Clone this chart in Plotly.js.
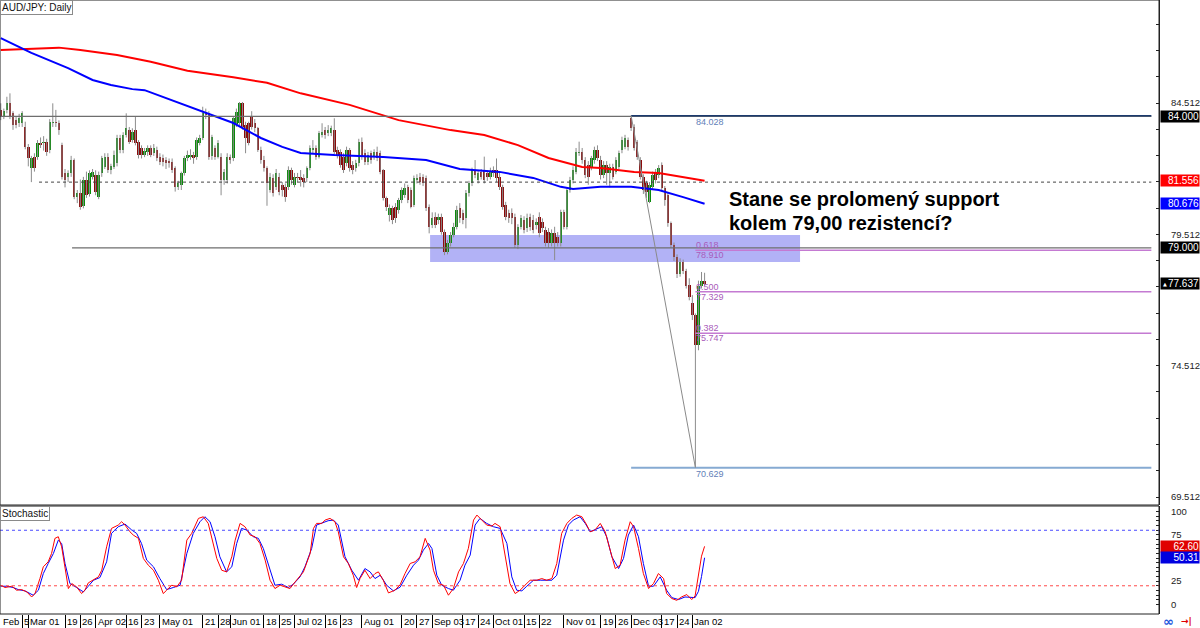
<!DOCTYPE html>
<html><head><meta charset="utf-8">
<script src="https://cdn.plot.ly/plotly-3.0.1.min.js"></script>
<style>html,body{margin:0;padding:0;background:#fff;overflow:hidden}#chart{width:1200px;height:628px}</style>
</head><body><div id="chart"></div>
<script>
// ---------- DATA ----------
const barOpen = [84.25,83.99,84.25,84.50,84.12,83.86,83.74,83.74,83.61,82.85,82.05,82.47,82.47,82.98,82.98,83.04,82.72,83.74,83.80,83.74,
82.92,81.83,81.71,81.83,82.34,80.95,81.10,80.60,81.58,81.05,81.71,81.77,80.95,81.83,82.09,82.47,81.96,82.09,82.22,83.17,
82.72,83.29,83.49,83.10,83.49,83.04,82.79,82.53,82.66,82.79,82.60,82.72,82.47,82.40,82.34,82.30,82.28,82.02,81.33,81.40,
81.83,82.40,82.47,82.53,82.47,83.00,83.17,84.18,84.12,82.50,82.79,82.47,82.47,81.58,81.58,82.47,82.40,83.70,83.74,84.50,
83.67,83.74,83.99,83.74,83.55,82.72,82.34,82.02,81.20,81.64,81.33,81.71,81.39,81.33,81.33,81.96,81.39,81.71,81.71,81.64,
81.64,82.02,82.72,82.79,82.47,83.29,83.49,83.36,83.36,83.49,82.72,82.66,82.47,82.22,82.72,82.15,82.02,82.22,83.04,82.60,
82.28,82.60,82.47,82.66,82.60,81.96,80.88,80.25,80.50,80.57,80.44,80.82,81.01,81.33,81.20,80.63,81.58,81.71,81.71,81.64,
80.57,79.86,80.18,80.06,80.18,79.61,78.85,79.17,79.49,79.80,80.50,80.31,80.12,81.07,81.45,81.96,81.58,81.90,81.96,81.83,
81.71,81.96,81.96,81.71,81.33,80.63,80.31,80.31,80.18,79.10,79.80,80.06,79.74,80.18,80.06,79.86,80.18,79.99,79.67,79.61,
79.17,79.55,79.42,79.17,80.37,79.80,81.20,81.58,81.90,82.60,82.66,82.34,82.15,82.09,82.34,82.72,82.34,81.77,82.15,81.83,
82.09,81.90,82.09,82.72,82.85,83.10,83.93,83.61,83.04,82.34,81.71,81.45,80.76,81.33,81.90,81.77,82.15,81.26,81.01,79.93,
79.11,78.66,78.00,78.45,78.10,77.60,76.89,76.44,75.30,77.55,77.75];
const barHigh = [84.50,84.30,84.75,84.88,84.20,84.00,84.10,84.20,83.80,82.95,82.50,82.60,83.10,83.20,83.25,83.15,83.90,84.50,84.25,83.85,
83.00,82.00,81.95,82.50,82.40,81.20,81.60,81.70,81.90,81.95,82.00,81.95,81.90,82.50,82.60,82.60,82.20,82.70,83.30,83.30,
83.40,84.12,83.60,83.55,84.00,83.10,82.90,82.80,82.90,82.90,82.95,82.85,82.60,82.55,82.45,82.40,82.40,82.10,81.55,81.90,
82.50,82.70,82.75,82.65,83.20,83.30,84.37,84.30,84.20,83.30,82.90,83.10,82.60,82.00,82.60,82.55,84.00,84.30,84.55,84.55,
83.80,83.80,84.20,83.90,83.60,82.85,82.50,82.10,81.85,81.80,82.00,81.85,81.50,81.45,82.10,82.05,81.85,81.85,81.96,81.80,
82.10,82.90,83.10,82.90,83.45,83.74,83.60,83.67,83.65,83.93,82.85,82.75,82.60,82.85,82.80,82.30,82.35,83.15,83.20,82.75,
82.65,82.70,82.75,82.85,82.70,82.00,80.95,80.65,80.60,80.70,80.90,81.30,81.45,81.40,81.30,81.75,81.80,81.85,81.80,81.75,
80.65,80.35,80.35,80.30,80.30,79.70,79.30,79.60,79.95,80.60,80.70,80.45,81.20,81.55,82.05,82.34,81.95,82.00,82.47,81.95,
82.05,82.10,82.40,81.85,81.40,80.75,80.45,80.50,80.30,79.90,80.25,80.20,80.30,80.30,80.25,80.12,80.35,80.12,79.80,79.75,
79.70,79.80,79.60,80.45,80.45,81.30,81.70,82.10,82.80,83.04,82.80,82.45,82.30,82.50,82.85,82.90,82.50,82.30,82.30,82.20,
82.20,82.45,82.70,83.23,83.30,83.20,84.028,83.70,83.10,82.45,81.80,81.55,81.50,81.90,82.00,82.15,82.25,81.35,81.10,80.00,
79.20,78.75,78.60,78.55,78.20,77.84,77.20,76.50,77.75,78.08,78.05];
const barLow = [83.86,83.90,84.12,83.90,83.49,83.55,83.60,83.60,82.75,82.10,81.50,81.90,82.35,82.80,82.70,82.50,82.60,83.60,83.60,83.30,
81.60,81.30,81.50,81.70,80.85,80.70,80.45,80.50,80.90,80.95,81.60,81.00,80.85,81.70,82.00,81.85,81.80,82.00,82.10,82.60,
82.60,83.20,82.95,83.00,82.90,82.40,82.40,82.45,82.50,82.45,82.50,82.30,82.15,82.10,82.00,82.05,81.85,81.14,81.20,81.20,
81.75,82.30,82.35,82.20,82.35,82.90,83.10,83.90,82.35,82.35,82.35,82.40,81.00,81.40,81.45,82.20,82.30,83.60,83.65,83.50,
82.60,82.90,83.50,83.40,82.65,82.20,81.90,80.60,81.10,80.95,81.20,81.00,80.95,80.75,81.20,81.40,81.30,81.50,81.33,81.30,
81.50,81.95,82.60,82.35,82.40,83.20,83.15,83.25,83.25,82.55,82.40,82.05,81.85,82.10,81.90,81.80,81.90,82.10,82.35,82.15,
82.15,82.20,82.35,82.30,81.80,80.80,80.40,80.00,79.90,79.95,80.30,80.70,80.90,80.70,80.50,80.55,81.45,81.40,81.35,80.40,
79.55,79.75,79.75,79.90,79.50,78.72,78.75,79.05,79.40,79.70,79.95,79.90,79.74,80.95,81.35,81.65,81.45,81.60,81.45,81.55,
81.60,81.70,81.50,81.20,80.45,80.05,79.95,79.90,79.00,78.95,79.70,79.55,79.60,79.65,79.55,79.70,79.40,79.60,79.05,79.00,
79.05,78.53,79.05,79.05,79.70,79.70,81.10,81.45,81.80,82.50,82.20,81.65,81.40,81.95,82.20,82.30,81.60,81.65,81.40,81.30,
81.60,81.80,82.00,82.60,82.75,82.70,83.45,82.70,82.35,81.60,81.05,80.90,80.70,81.20,81.45,81.65,81.15,80.60,79.80,79.00,
78.50,77.85,77.90,78.00,77.45,77.00,76.25,70.629,75.10,77.45,77.55];
const barClose = [83.99,84.20,84.50,83.99,83.68,83.68,83.93,84.12,82.85,82.40,82.40,82.05,82.98,82.92,83.04,82.66,83.80,83.80,83.74,83.49,
81.71,81.58,81.83,82.34,80.95,81.10,80.55,81.58,81.00,81.83,81.90,81.14,81.77,82.40,82.47,81.96,82.10,82.53,83.17,82.72,
83.29,83.55,83.04,83.42,82.98,82.53,82.53,82.70,82.79,82.53,82.79,82.40,82.28,82.28,82.22,82.22,81.96,81.33,81.45,81.83,
82.40,82.53,82.53,82.40,83.10,83.17,84.12,84.05,82.47,83.20,82.47,83.00,81.58,81.90,82.47,82.34,83.93,84.18,84.50,83.61,
83.17,82.98,83.61,83.55,82.72,82.34,82.02,81.45,81.71,81.07,81.83,81.14,81.20,80.95,81.96,81.58,81.71,81.64,81.58,81.52,
82.02,82.79,82.79,82.47,83.36,83.42,83.29,83.49,83.55,82.66,82.53,82.15,81.96,82.72,82.02,81.96,82.22,83.04,82.47,82.28,
82.53,82.34,82.66,82.40,81.90,80.88,80.57,80.50,80.06,80.12,80.82,81.20,81.26,80.82,80.57,81.64,81.64,81.52,81.45,80.50,
79.80,80.12,79.86,80.18,79.61,78.85,79.17,79.49,79.80,80.44,80.12,80.06,81.07,81.45,81.96,81.77,81.83,81.71,81.58,81.71,
81.90,81.83,81.64,81.33,80.57,80.18,80.12,80.12,79.10,79.80,80.12,79.67,80.12,79.80,79.67,79.99,79.55,79.74,79.17,79.17,
79.55,79.17,79.17,80.37,79.80,81.20,81.58,81.96,82.66,82.66,82.34,81.77,81.71,82.40,82.72,82.40,81.77,82.15,81.83,82.09,
81.71,82.34,82.60,83.10,83.17,82.85,83.55,82.79,82.47,81.71,81.20,81.14,81.39,81.77,81.58,82.02,81.26,80.82,79.93,79.11,
78.66,78.00,78.45,78.10,77.55,77.14,76.44,75.30,77.55,77.75,77.637];

const firstBarDate = '2018-02-16';
const closedDays = ['2018-12-25','2019-01-01'];

// Moving averages (bar index, value)
const maSlowIdx = [0,10,19,26,38,49,61,76,87,98,114,130,147,158,169,179,190,196,207,215,223,230];
const maSlowVal = [86.53,86.57,86.62,86.53,86.34,86.08,85.74,85.49,85.28,84.88,84.44,83.86,83.48,83.29,82.91,82.42,82.08,82.04,81.89,81.85,81.70,81.556];
const maFastIdx = [0,10,22,30,36,43,47,54,65,76,85,92,98,109,125,139,150,163,174,183,187,196,206,215,223,230];
const maFastVal = [86.98,86.42,85.84,85.39,85.20,85.04,85.00,84.70,84.25,83.75,83.18,82.84,82.61,82.53,82.46,82.34,82.00,81.89,81.66,81.32,81.24,81.32,81.32,81.20,80.93,80.676];

// Stochastic %K (red) and %D (blue)
const stochKIdx = [0,1.4,3.6,5.2,6.8,8.5,10.1,11.2,12.8,13.9,15.5,16.6,17.7,18.8,19.9,21.0,22.1,23.2,24.8,26.4,27.5,28.6,30.3,31.9,33.0,34.6,36.2,38.4,39.5,40.6,42.2,43.3,45.0,46.6,48.2,49.9,51.5,53.1,54.2,55.9,57.5,59.1,60.8,62.4,64.6,66.2,67.8,69.5,70.6,72.2,73.8,75.5,76.6,78.2,79.8,81.5,83.1,84.7,86.4,88.0,89.6,91.3,92.9,94.5,96.2,97.8,98.9,101.1,102.2,103.2,104.9,106.0,107.6,109.2,110.3,112.0,113.6,115.2,116.3,117.4,119.0,120.7,122.3,123.4,125.0,126.7,128.8,130.5,132.1,133.8,135.4,137.0,138.7,140.3,141.4,143.0,144.7,146.3,147.9,149.6,151.2,152.8,154.5,155.6,157.2,158.8,160.5,161.5,163.2,164.8,166.4,168.1,169.7,171.3,173.0,175.2,176.8,178.4,180.1,181.7,183.3,185.0,186.6,188.2,189.9,191.5,192.6,194.2,195.9,197.5,199.1,200.8,202.4,204.0,205.7,206.8,208.4,210.0,211.7,213.3,214.9,216.6,217.6,219.3,220.9,222.5,224.2,225.8,226.9,228.0,229.0,230.0];
const stochKVal = [20.6,18.1,19.5,15.2,15.9,13.4,7.9,11.6,27.8,40.5,45.9,54.9,71.2,73.0,62.1,36.8,17.0,22.4,18.8,11.6,15.2,23.1,26.7,29.6,36.8,62.1,82.0,85.6,89.2,85.6,78.4,74.8,71.2,49.5,42.3,36.8,26.0,11.6,15.2,20.6,18.8,26.0,69.3,76.6,92.8,94.6,87.4,65.7,49.5,36.8,35.0,51.3,69.3,87.4,83.8,74.8,73.0,65.7,47.7,26.0,17.0,20.6,18.8,17.0,24.2,31.4,35.0,54.9,82.0,87.4,87.4,91.0,92.8,89.2,78.4,51.3,44.1,31.4,18.1,27.8,36.8,27.8,33.2,35.0,26.0,12.3,15.2,21.0,33.2,44.1,45.9,51.3,71.2,58.5,36.8,22.4,20.6,9.8,17.0,35.0,44.1,60.3,91.0,96.4,91.0,85.6,84.5,87.4,83.8,54.9,22.4,11.6,15.2,20.6,26.0,26.0,27.8,26.0,27.8,44.1,76.6,87.4,92.8,96.4,94.6,85.6,78.4,80.2,87.4,78.4,58.5,38.6,42.3,69.3,89.2,83.8,60.3,33.2,17.0,22.4,33.2,27.8,11.6,6.2,4.3,8.0,10.5,5.1,9.0,30.0,52.0,62.60];
const stochDIdx = [0,1.9,4.1,5.7,7.9,10.6,12.3,13.9,15.5,17.2,18.8,19.9,21.0,22.6,24.8,27.0,28.6,30.3,32.4,34.6,36.2,38.4,40.6,42.8,44.4,46.0,47.7,49.9,52.0,54.2,56.4,58.6,60.8,62.9,65.1,66.7,68.4,70.0,71.6,73.8,75.5,77.1,78.7,80.4,82.5,84.2,85.8,88.0,89.6,91.8,94.0,95.6,97.8,99.4,101.6,103.2,104.9,107.0,108.7,110.3,112.5,114.7,116.9,119.0,120.7,122.3,124.0,126.1,128.3,130.5,132.7,134.9,136.5,138.1,139.8,140.9,142.5,144.1,146.3,147.9,150.1,151.7,153.4,155.0,156.6,158.8,161.0,163.2,165.4,167.0,168.6,170.3,171.9,174.1,176.3,178.4,180.1,181.7,183.9,185.5,187.1,189.3,191.0,192.6,194.8,196.4,198.0,199.7,201.9,203.5,205.1,206.8,208.4,210.0,211.7,213.3,215.5,217.6,219.3,221.5,223.6,225.3,226.9,228.0,229.0,230.0];
const stochDVal = [19.5,19.5,18.1,15.9,14.5,9.8,15.2,33.2,44.1,54.9,69.3,65.7,44.1,22.4,18.1,13.4,19.5,26.0,28.9,45.9,76.6,83.8,86.7,80.2,76.6,65.7,47.7,40.5,27.8,15.9,18.1,20.6,54.9,76.6,89.2,94.6,89.2,73.0,51.3,35.0,40.5,65.7,82.0,80.2,73.0,71.2,60.3,36.8,20.6,21.7,18.1,21.7,29.6,40.5,60.3,85.6,87.4,90.3,91.0,85.6,51.3,36.8,26.0,38.6,35.0,27.8,31.4,20.6,14.5,18.5,31.4,42.3,47.7,58.5,65.7,60.3,31.4,20.6,17.0,15.2,26.0,42.3,53.1,85.6,92.8,87.4,83.8,82.0,65.7,29.6,15.2,14.5,19.5,26.0,26.0,26.0,26.0,31.4,69.3,85.6,91.0,94.6,87.4,78.4,82.0,83.8,73.0,51.3,38.6,49.5,74.8,85.6,73.0,44.1,19.5,19.5,29.6,15.2,7.2,5.1,7.9,7.9,7.2,14.0,30.0,50.31];
const stochLevels = [80, 20];

// Drawn objects
const hLevels = [84.000, 81.50, 79.000];
const fibHigh = 84.028, fibLow = 70.629;
const fibRatios = [0.618, 0.500, 0.382];
const zoneTop = 79.487, zoneBottom = 78.459;

// Axis labels
const priceLabels = [69.512, 74.512, 79.512, 84.512];
const stochLabels = [0, 25, 75, 100];
const dateLabelDates = ['2018-02-16','2018-02-27','2018-03-01','2018-03-19','2018-03-26','2018-04-02','2018-04-16','2018-04-23','2018-05-01','2018-05-21','2018-05-28','2018-06-01','2018-06-18','2018-06-25','2018-07-02','2018-07-16','2018-07-23','2018-08-01','2018-08-20','2018-08-27','2018-09-03','2018-09-17','2018-09-24','2018-10-01','2018-10-15','2018-10-22','2018-11-01','2018-11-19','2018-11-26','2018-12-03','2018-12-17','2018-12-24','2019-01-02'];
const dateLabelTexts = ['Feb','5','Mar 01','19','26','Apr 02','16','23','May 01','21','28','Jun 01','18','25','Jul 02','16','23','Aug 01','20','27','Sep 03','17','24','Oct 01','15','22','Nov 01','19','26','Dec 03','17','24','Jan 02'];

const titleText = 'AUD/JPY: Daily';
const stochTitle = 'Stochastic';
const noteLines = ['Stane se prolomený support', 'kolem 79,00 rezistencí?'];

// ---------- BUILD ----------
const N = barOpen.length;
const days = [];
{ const d = new Date(firstBarDate + 'T00:00:00Z');
  while (days.length < N + 5) {
    const s = d.toISOString().slice(0,10), wd = d.getUTCDay();
    if (wd !== 0 && wd !== 6 && !closedDays.includes(s)) days.push(s);
    d.setUTCDate(d.getUTCDate()+1);
  } }
const idx = barOpen.map((_, i) => i);

const W = 1200, H = 628, PR = 1159, PB = 614, MAIN_B = 505, STO_T = 506;
const px = v => v / PR;              // pixel -> paper x
const py = v => 1 - v / PB;          // pixel -> paper y
const XR = [-0.25, 378.5];
const xEnd = 376;                    // right end of drawn lines (bar units)
const NARROW = 'Liberation Sans Narrow, Arial Narrow, Liberation Sans, sans-serif';

const fibIdxHigh = 206, fibIdxLow = 227;

const traces = [
  { type:'ohlc', x: idx, open: barOpen, high: barHigh, low: barLow, close: barClose,
    xaxis:'x', yaxis:'y', tickwidth: 0, hoverinfo:'skip',
    increasing:{line:{color:'#8c8c8c', width:1}}, decreasing:{line:{color:'#8c8c8c', width:1}} },
  { type:'bar', x: idx, base: idx.map(i => Math.min(barOpen[i], barClose[i])),
    y: idx.map(i => Math.max(Math.abs(barClose[i]-barOpen[i]), 0.025)), width: 0.8,
    marker:{ color: idx.map(i => barClose[i] >= barOpen[i] ? '#0a8a0a' : '#8b0a0a'), line:{width:0} },
    xaxis:'x', yaxis:'y', hoverinfo:'skip' },
  { type:'scatter', mode:'lines', x: maSlowIdx, y: maSlowVal, line:{color:'#ff0000', width:2}, xaxis:'x', yaxis:'y', hoverinfo:'skip' },
  { type:'scatter', mode:'lines', x: maFastIdx, y: maFastVal, line:{color:'#0000ff', width:2}, xaxis:'x', yaxis:'y', hoverinfo:'skip' },
  { type:'scatter', mode:'lines', x: stochDIdx, y: stochDVal, line:{color:'#0000ff', width:1}, xaxis:'x', yaxis:'y2', hoverinfo:'skip' },
  { type:'scatter', mode:'lines', x: stochKIdx, y: stochKVal, line:{color:'#ff0000', width:1}, xaxis:'x', yaxis:'y2', hoverinfo:'skip' }
];

const shapes = [];
shapes.push({type:'rect', xref:'x', yref:'y', x0:140.3, x1:261.2, y0:zoneBottom, y1:zoneTop,
  fillcolor:'rgb(178,178,246)', line:{width:0}, layer:'below'});
shapes.push({type:'line', xref:'x', yref:'y', x0:XR[0], x1:xEnd, y0:hLevels[0], y1:hLevels[0], line:{color:'#6e6e6e', width:1.3}});
shapes.push({type:'line', xref:'x', yref:'y', x0:12.5, x1:xEnd, y0:hLevels[1], y1:hLevels[1], line:{color:'#444', width:1, dash:'dot'}});
shapes.push({type:'line', xref:'x', yref:'y', x0:23.3, x1:xEnd, y0:hLevels[2], y1:hLevels[2], line:{color:'#6e6e6e', width:1.3}});
shapes.push({type:'line', xref:'x', yref:'y', x0:fibIdxHigh, x1:xEnd, y0:fibHigh, y1:fibHigh, line:{color:'#1b3a6e', width:1.5}});
shapes.push({type:'line', xref:'x', yref:'y', x0:fibIdxHigh, x1:xEnd, y0:fibLow, y1:fibLow, line:{color:'#86aad2', width:2}});
fibRatios.forEach(r => {
  const lv = fibLow + r*(fibHigh - fibLow);
  shapes.push({type:'line', xref:'x', yref:'y', x0:fibIdxLow, x1:xEnd, y0:lv, y1:lv, line:{color:'#c47ad2', width:1.5}});
});
shapes.push({type:'line', xref:'x', yref:'y', x0:fibIdxHigh, x1:fibIdxLow, y0:fibHigh, y1:fibLow, line:{color:'#8a8a8a', width:1}});
shapes.push({type:'line', xref:'paper', yref:'y2', x0:0, x1:1, y0:stochLevels[0], y1:stochLevels[0], line:{color:'#4a4aff', width:1, dash:'dot'}});
shapes.push({type:'line', xref:'paper', yref:'y2', x0:0, x1:1, y0:stochLevels[1], y1:stochLevels[1], line:{color:'#ff4a4a', width:1, dash:'dot'}});
shapes.push({type:'rect', xref:'paper', yref:'paper', x0:0, x1:1, y0:py(MAIN_B), y1:1, line:{color:'#222', width:1}});
shapes.push({type:'rect', xref:'paper', yref:'paper', x0:0, x1:1, y0:0, y1:py(STO_T), line:{color:'#222', width:1}});

const ann = [];
const box = (yref, y, text, bg, fg) => ({xref:'paper', x:px(PR+1), xanchor:'left', yref, y, yanchor:'middle',
  text, showarrow:false, bgcolor:bg, font:{family:NARROW, size:10, color:fg||'#fff'}, width:38, align:'right', borderpad:0});
ann.push(box('y', hLevels[0], hLevels[0].toFixed(3), '#000'));
ann.push(box('y', hLevels[2], hLevels[2].toFixed(3), '#000'));
ann.push(box('y', maSlowVal[maSlowVal.length-1], maSlowVal[maSlowVal.length-1].toFixed(3), '#ff0000'));
ann.push(box('y', maFastVal[maFastVal.length-1], maFastVal[maFastVal.length-1].toFixed(3), '#0000ff'));
ann.push(box('y', barClose[N-1], barClose[N-1].toFixed(3), '#000'));
ann.push({xref:'paper', x:px(PR+2), xanchor:'left', yref:'y', y:barClose[N-1], yanchor:'middle', text:'▲', showarrow:false,
  font:{family:'DejaVu Sans', size:5, color:'#fff'}});
ann.push(box('y2', stochKVal[stochKVal.length-1], stochKVal[stochKVal.length-1].toFixed(2), '#e00000'));
ann.push(box('y2', stochDVal[stochDVal.length-1], stochDVal[stochDVal.length-1].toFixed(2), '#0000e0'));

const fibFont = c => ({family:NARROW, size:9, color:c});
ann.push({xref:'x', x:fibIdxLow, xanchor:'left', yref:'y', y:fibHigh, yanchor:'top', text:fibHigh.toFixed(3), showarrow:false, font:fibFont('#5f80b8'), borderpad:0});
ann.push({xref:'x', x:fibIdxLow, xanchor:'left', yref:'y', y:fibLow, yanchor:'top', text:fibLow.toFixed(3), showarrow:false, font:fibFont('#5f80b8'), borderpad:0});
fibRatios.forEach(r => {
  const lv = fibLow + r*(fibHigh - fibLow);
  ann.push({xref:'x', x:fibIdxLow, xanchor:'left', yref:'y', y:lv, yanchor:'bottom', text:r.toFixed(3), showarrow:false, font:fibFont('#a95cba'), borderpad:0, yshift:-1});
  ann.push({xref:'x', x:fibIdxLow, xanchor:'left', yref:'y', y:lv, yanchor:'top', text:lv.toFixed(3), showarrow:false, font:fibFont('#a95cba'), borderpad:0, yshift:1});
});

ann.push({xref:'paper', x:0, xanchor:'left', yref:'paper', y:1, yanchor:'top', text:titleText, showarrow:false,
  font:{family:NARROW, size:10, color:'#111'}, bgcolor:'#fff', bordercolor:'#8a8a8a', borderwidth:1, borderpad:1});
ann.push({xref:'paper', x:0, xanchor:'left', yref:'paper', y:py(STO_T), yanchor:'top', text:stochTitle, showarrow:false,
  font:{family:NARROW, size:10, color:'#111'}, bgcolor:'#fff', bordercolor:'#8a8a8a', borderwidth:1, borderpad:1});
ann.push({xref:'paper', x:px(727), xanchor:'left', yref:'paper', y:py(199), yanchor:'middle', text:'<b>'+noteLines[0]+'</b>', showarrow:false,
  font:{family:'Liberation Sans, Arial, sans-serif', size:20, color:'#000'}});
ann.push({xref:'paper', x:px(727), xanchor:'left', yref:'paper', y:py(222.5), yanchor:'middle', text:'<b>'+noteLines[1]+'</b>', showarrow:false,
  font:{family:'Liberation Sans, Arial, sans-serif', size:20, color:'#000'}});

const sepVals = [];
dateLabelDates.forEach((ds, k) => {
  const i = days.indexOf(ds);
  if (k > 0) sepVals.push(i);
  ann.push({xref:'x', x:i, xanchor:'left', xshift: 1, yref:'paper', y:py(621), yanchor:'middle',
    text:dateLabelTexts[k], showarrow:false, font:{family:NARROW, size:9.5, color:'#000'}, borderpad:0});
});
ann.push({xref:'paper', x:px(1168), xanchor:'center', yref:'paper', y:py(621), yanchor:'middle', text:'<b>∞</b>', showarrow:false, font:{family:'DejaVu Sans', size:13, color:'#2255dd'}});
ann.push({xref:'paper', x:px(1186), xanchor:'center', yref:'paper', y:py(621), yanchor:'middle', text:'<b>→|</b>', showarrow:false, font:{family:'DejaVu Sans', size:9, color:'#e00000'}});

const pTicks = [], pText = [];
for (let v = priceLabels[0] - 1; v < 89; v += 1) { const r = Math.round(v*1000)/1000; pTicks.push(r); pText.push(priceLabels.includes(r) ? r.toFixed(3) : ''); }
const sTicks = [], sText = [];
for (let v = 0; v <= 100; v += 5) { sTicks.push(v); sText.push(stochLabels.includes(v) ? String(v) : ''); }

const axisFont = {family:NARROW, size:9.5, color:'#222'};
const layout = {
  width: W, height: H, margin:{l:0, r:W-PR, t:0, b:H-PB, pad:0},
  paper_bgcolor:'#fff', plot_bgcolor:'#fff', showlegend:false, dragmode:false, hovermode:false,
  xaxis:{ domain:[0,1], range:XR, anchor:'y2', showgrid:false, zeroline:false, showline:false,
    tickmode:'array', tickvals:sepVals, ticktext:sepVals.map(()=>''), ticks:'outside', ticklen:14, tickwidth:1, tickcolor:'#000',
    showticklabels:false, rangeslider:{visible:false}, fixedrange:true },
  yaxis:{ domain:[py(MAIN_B), 1], range:[69.209, 88.433], side:'right', anchor:'x', showgrid:false, zeroline:false,
    showline:true, linecolor:'#222', linewidth:1, tickmode:'array', tickvals:pTicks, ticktext:pText, ticks:'inside', ticklen:3, tickcolor:'#222',
    tickfont:axisFont, ticklabelstandoff:9, fixedrange:true },
  yaxis2:{ domain:[0, py(STO_T)], range:[-10.5, 106.2], side:'right', anchor:'x', showgrid:false, zeroline:false,
    showline:true, linecolor:'#222', linewidth:1, tickmode:'array', tickvals:sTicks, ticktext:sText, ticks:'inside', ticklen:3, tickcolor:'#222',
    tickfont:axisFont, ticklabelstandoff:9, fixedrange:true },
  shapes, annotations: ann, bargap:0
};
Plotly.newPlot('chart', traces, layout, {staticPlot:true, displayModeBar:false});
</script></body></html>
